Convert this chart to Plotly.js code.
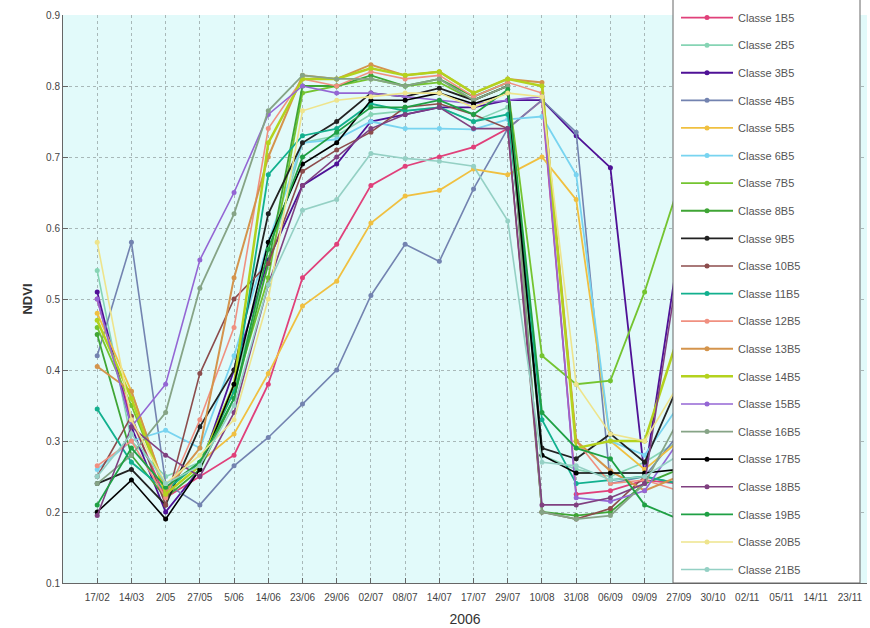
<!DOCTYPE html>
<html>
<head>
<meta charset="utf-8">
<script src="https://cdn.plot.ly/plotly-3.0.1.min.js"></script>
<style>html,body{margin:0;padding:0;background:#fff;}#chart{width:870px;height:628px;}</style>
</head>
<body>
<div id="chart"></div>
<script>
// Tick labels (dates, 2006)
const dates = ["17/02","14/03","2/05","27/05","5/06","14/06","23/06","29/06","02/07","08/07","14/07","17/07","29/07","10/08","31/08","06/09","09/09","27/09","30/10","02/11","05/11","14/11","23/11"];

const classNames = ["Classe 1B5","Classe 2B5","Classe 3B5","Classe 4B5","Classe 5B5","Classe 6B5","Classe 7B5","Classe 8B5","Classe 9B5","Classe 10B5","Classe 11B5","Classe 12B5","Classe 13B5","Classe 14B5","Classe 15B5","Classe 16B5","Classe 17B5","Classe 18B5","Classe 19B5","Classe 20B5","Classe 21B5"];

// NDVI values per class (17/02 ... 27/09)
const c1  = [0.50,0.33,0.22,0.25,0.28,0.38,0.53,0.577,0.66,0.687,0.70,0.714,0.74,0.78,0.225,0.23,0.245,0.24];
const c2  = [0.54,0.30,0.25,0.27,0.38,0.55,0.72,0.73,0.76,0.765,0.77,0.75,0.77,0.28,0.26,0.25,0.27,0.30];
const c3  = [0.51,0.32,0.20,0.26,0.40,0.555,0.66,0.69,0.75,0.76,0.77,0.77,0.78,0.78,0.73,0.685,0.25,0.57];
const c4  = [0.42,0.58,0.24,0.21,0.265,0.305,0.352,0.40,0.505,0.577,0.553,0.655,0.74,0.78,0.735,0.24,0.25,0.31];
const c5  = [0.48,0.37,0.23,0.27,0.31,0.395,0.49,0.525,0.607,0.645,0.653,0.683,0.675,0.70,0.64,0.30,0.26,0.30];
const c6  = [0.26,0.30,0.315,0.29,0.42,0.58,0.72,0.725,0.75,0.74,0.74,0.739,0.753,0.757,0.675,0.30,0.28,0.35];
const c7  = [0.46,0.35,0.23,0.27,0.37,0.53,0.79,0.80,0.81,0.80,0.805,0.78,0.80,0.42,0.38,0.385,0.51,0.66];
const c8  = [0.45,0.28,0.22,0.26,0.36,0.55,0.80,0.80,0.815,0.80,0.81,0.785,0.805,0.20,0.195,0.20,0.24,0.26];
const c9  = [0.24,0.26,0.21,0.32,0.40,0.62,0.72,0.75,0.79,0.785,0.797,0.78,0.80,0.29,0.275,0.31,0.27,0.38];
const c10 = [0.25,0.335,0.21,0.395,0.50,0.55,0.68,0.71,0.735,0.77,0.775,0.76,0.74,0.20,0.19,0.205,0.25,0.24];
const c11 = [0.345,0.27,0.23,0.27,0.37,0.675,0.73,0.74,0.775,0.765,0.77,0.75,0.76,0.33,0.24,0.245,0.25,0.24];
const c12 = [0.265,0.30,0.22,0.33,0.46,0.74,0.81,0.80,0.82,0.81,0.815,0.785,0.805,0.79,0.30,0.24,0.245,0.23];
const c13 = [0.405,0.37,0.23,0.29,0.53,0.70,0.815,0.81,0.83,0.815,0.82,0.79,0.81,0.805,0.30,0.258,0.23,0.25];
const c14 = [0.47,0.36,0.225,0.265,0.38,0.72,0.81,0.81,0.825,0.815,0.82,0.79,0.81,0.80,0.29,0.30,0.30,0.45];
const c15 = [0.50,0.32,0.38,0.555,0.65,0.76,0.80,0.79,0.79,0.785,0.78,0.775,0.78,0.785,0.22,0.215,0.23,0.30];
const c16 = [0.24,0.28,0.34,0.515,0.62,0.765,0.815,0.81,0.81,0.80,0.81,0.78,0.80,0.20,0.19,0.195,0.24,0.33];
const c17 = [0.20,0.245,0.19,0.26,0.38,0.58,0.69,0.72,0.78,0.78,0.79,0.775,0.79,0.28,0.255,0.255,0.255,0.26];
const c18 = [0.195,0.32,0.28,0.25,0.34,0.52,0.66,0.70,0.74,0.76,0.77,0.74,0.74,0.21,0.21,0.22,0.24,0.55];
const c19 = [0.21,0.29,0.235,0.27,0.36,0.57,0.70,0.735,0.77,0.77,0.78,0.76,0.795,0.34,0.29,0.275,0.21,0.19];
const c20 = [0.58,0.33,0.24,0.28,0.33,0.50,0.765,0.78,0.785,0.79,0.79,0.77,0.79,0.785,0.38,0.31,0.30,0.38];
const c21 = [0.25,0.31,0.24,0.265,0.35,0.52,0.625,0.64,0.705,0.698,0.694,0.687,0.61,0.27,0.265,0.245,0.25,0.28];

const seriesValues = [c1,c2,c3,c4,c5,c6,c7,c8,c9,c10,c11,c12,c13,c14,c15,c16,c17,c18,c19,c20,c21];

const colors = ["#e0407a","#86d4b4","#4f1196","#7383b0","#f0c040","#78d4f0","#74c430","#3fa535","#222222","#8c4c4c","#12b08e","#f09080","#d4944c","#b4d21e","#9466d4","#86a486","#000000","#804080","#1fa044","#eee48c","#94d0c4"];
const widths = [1.8,1.6,1.8,1.6,1.8,1.8,1.8,1.8,1.8,1.6,1.8,1.6,2.0,2.5,1.6,1.8,1.6,1.6,1.8,1.6,1.6];

const traces = seriesValues.map((vals, i) => ({
  type: "scatter",
  mode: "lines+markers",
  name: classNames[i],
  legendgroup: "g" + i,
  x: vals.map((v, k) => k),
  y: vals,
  line: {color: colors[i], width: widths[i]},
  marker: {color: colors[i], size: 5}
}));

const plotW = 870 - 63 - 3, plotH = 628 - 12 - 45;
const px = v => (v - 63) / plotW;
const py = v => (583 - v) / plotH;

const layout = {
  width: 870, height: 628,
  margin: {l: 63, r: 3, t: 12, b: 45},
  paper_bgcolor: "#ffffff",
  plot_bgcolor: "#e2fafa",
  font: {family: "Liberation Sans, Arial, sans-serif", size: 10, color: "#444"},
  showlegend: true,
  legend: {
    x: px(676), y: py(0), xanchor: "left", yanchor: "top",
    bgcolor: "rgba(0,0,0,0)", borderwidth: 0,
    font: {size: 11, color: "#555"},
    tracegroupgap: 8.6, itemwidth: 52,
    maxheight: 700
  },
  shapes: [{
    type: "rect", xref: "paper", yref: "paper", layer: "above",
    x0: px(673), x1: px(860), y0: 0, y1: py(-5),
    fillcolor: "#ffffff", line: {color: "#666", width: 1}
  }],
  xaxis: {
    range: [-1, 22.5],
    tickmode: "array",
    tickvals: dates.map((d, i) => i),
    ticktext: dates,
    ticks: "inside", ticklen: 5, tickcolor: "#666",
    ticklabelstandoff: 5,
    showgrid: true, gridcolor: "#a8b8b8", griddash: "dot", gridwidth: 1,
    showline: true, linecolor: "#666", linewidth: 1, mirror: false,
    zeroline: false,
    tickfont: {size: 10, color: "#444"},
    title: {text: "2006", font: {size: 14, color: "#333"}, standoff: 12}
  },
  yaxis: {
    range: [0.1, 0.9],
    tickvals: [0.1,0.2,0.3,0.4,0.5,0.6,0.7,0.8,0.9],
    ticktext: ["0.1","0.2","0.3","0.4","0.5","0.6","0.7","0.8","0.9"],
    ticks: "inside", ticklen: 5, tickcolor: "#666",
    showgrid: true, gridcolor: "#a8b8b8", griddash: "dot", gridwidth: 1,
    showline: true, linecolor: "#666", linewidth: 1,
    zeroline: false,
    tickfont: {size: 10, color: "#444"},
    title: {text: "<b>NDVI</b>", font: {size: 13, color: "#333"}, standoff: 10}
  }
};

Plotly.newPlot("chart", traces, layout, {displayModeBar: false, staticPlot: true});
</script>
</body>
</html>
